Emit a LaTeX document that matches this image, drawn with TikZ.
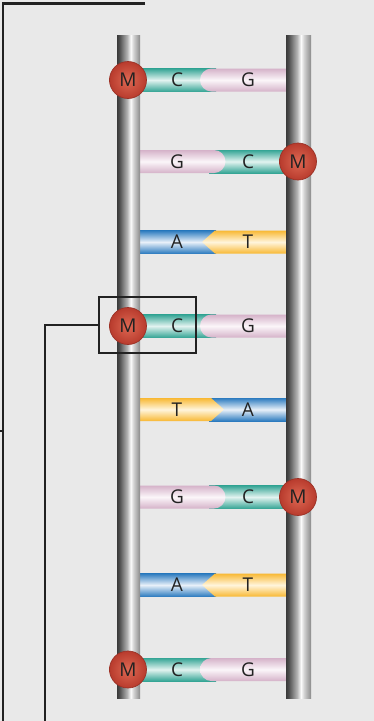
\documentclass[tikz,border=0pt]{standalone}
\usepackage{fontspec}
\setmainfont{Open Sans}
\definecolor{bg}{HTML}{E9E9E9}
\definecolor{cyt}{HTML}{35A595}
\definecolor{cytHi}{HTML}{E2F3F0}
\definecolor{gua}{HTML}{D5B2C9}
\definecolor{guaHi}{HTML}{FBF6F9}
\definecolor{ade}{HTML}{2C7BBF}
\definecolor{adeHi}{HTML}{E8F0F9}
\definecolor{thy}{HTML}{F8B833}
\definecolor{thyHi}{HTML}{FFF5DC}
\definecolor{ballIn}{HTML}{DE6853}
\definecolor{ballOut}{HTML}{B83B2D}
\definecolor{ballRim}{HTML}{9A3126}
\definecolor{ink}{HTML}{222222}
\definecolor{railA}{HTML}{3A3A3A}
\definecolor{railB}{HTML}{4C4C4C}
\definecolor{railC}{HTML}{B3B3B3}
\definecolor{railD}{HTML}{FBFBFB}
\definecolor{railE}{HTML}{D2D2D2}
\definecolor{railF}{HTML}{8A8A8A}
% sugar-phosphate backbone: dark left edge, bright highlight right of centre
\pgfdeclarehorizontalshading{rail}{100bp}{color(0bp)=(railA); color(25bp)=(railA);
  color(30bp)=(railB); color(47bp)=(railC); color(55bp)=(railD);
  color(61bp)=(railE); color(75bp)=(railF); color(100bp)=(railF)}
% base pieces, each with a tubular highlight
\tikzset{
  cbase/.style={top color=cyt, bottom color=cyt, middle color=cytHi},
  gbase/.style={top color=gua, bottom color=gua, middle color=guaHi},
  abase/.style={top color=ade, bottom color=ade, middle color=adeHi},
  tbase/.style={top color=thy, bottom color=thy, middle color=thyHi},
  letter/.style={inner sep=0pt, text=ink, font=\fontsize{19}{21}\selectfont},
  mball/.style={circle, minimum size=37pt, inner sep=0pt, inner color=ballIn,
    outer color=ballOut, draw=ballRim, line width=0.7pt, text=ink,
    font=\fontsize{19}{21}\selectfont},
  bracket/.style={draw=ink, line width=2.2pt},
}
% C (left) paired with G (right)
\newcommand\rungCG[2]{%
  \shade[cbase] (130,#1-11.5) rectangle (216,#1+11.5);
  \shade[gbase] (295,#1-11.5) -- (211.5,#1-11.5)
    .. controls (205.15,#1-11.5) and (200,#1-6.35) .. (200,#1)
    .. controls (200,#1+6.35) and (205.15,#1+11.5) .. (211.5,#1+11.5)
    -- (295,#1+11.5) -- cycle;
  \node[letter] (#2l) at (177,#1) {C};
  \node[letter] (#2r) at (248,#1) {G};}
% G (left) paired with C (right)
\newcommand\rungGC[2]{%
  \shade[cbase] (209,#1-11.5) rectangle (295,#1+11.5);
  \shade[gbase] (130,#1-11.5) -- (214,#1-11.5)
    .. controls (220.35,#1-11.5) and (225.5,#1-6.35) .. (225.5,#1)
    .. controls (225.5,#1+6.35) and (220.35,#1+11.5) .. (214,#1+11.5)
    -- (130,#1+11.5) -- cycle;
  \node[letter] (#2l) at (177,#1) {G};
  \node[letter] (#2r) at (248,#1) {C};}
% A (left) paired with T (right)
\newcommand\rungAT[2]{%
  \shade[abase] (130,#1-11.5) rectangle (216,#1+11.5);
  \shade[tbase] (295,#1-11.5) -- (215,#1-11.5) -- (202,#1) -- (215,#1+11.5)
    -- (295,#1+11.5) -- cycle;
  \node[letter] (#2l) at (177,#1) {A};
  \node[letter] (#2r) at (248,#1) {T};}
% T (left) paired with A (right)
\newcommand\rungTA[2]{%
  \shade[abase] (209,#1-11.5) rectangle (295,#1+11.5);
  \shade[tbase] (130,#1-11.5) -- (211,#1-11.5) -- (224,#1) -- (211,#1+11.5)
    -- (130,#1+11.5) -- cycle;
  \node[letter] (#2l) at (177,#1) {T};
  \node[letter] (#2r) at (248,#1) {A};}
\begin{document}
\begin{tikzpicture}[x=1pt,y=-1pt]
  \fill[bg] (0,0) rectangle (374,721);
  \useasboundingbox (0,0) rectangle (374,721);

  % base pairs
  \rungCG{80}{p1}
  \rungGC{161.5}{p2}
  \rungAT{242}{p3}
  \rungCG{326}{p4}
  \rungTA{409.5}{p5}
  \rungGC{497}{p6}
  \rungAT{585}{p7}
  \rungCG{669.5}{p8}

  % backbones
  \shade[shading=rail] (117,35) rectangle (140,698);
  \shade[shading=rail] (286,35) rectangle (311,698);

  % methyl groups
  \node[mball] (m1) at (128,80) {M};
  \node[mball] (m2) at (298,161.5) {M};
  \node[mball] (m4) at (128,326) {M};
  \node[mball] (m6) at (298,497) {M};
  \node[mball] (m8) at (128,669.5) {M};

  % highlighted site and leader lines
  \node[draw=ink, line width=2pt, minimum width=97pt, minimum height=56pt,
    inner sep=0pt] (sel) at (147.5,325) {};
  \coordinate (topEnd) at (145,3.5);
  \coordinate (topCorner) at (3,3.5);
  \coordinate (leftFoot) at (3,721);
  \coordinate (tickL) at (0,431);
  \coordinate (tickR) at (3,431);
  \coordinate (selFoot) at (45,721);
  \draw[bracket] (topEnd) -- (topCorner) -- (leftFoot);
  \draw[bracket] (tickL) -- (tickR);
  \draw[bracket] (sel.west) -| (selFoot);
\end{tikzpicture}
\end{document}
